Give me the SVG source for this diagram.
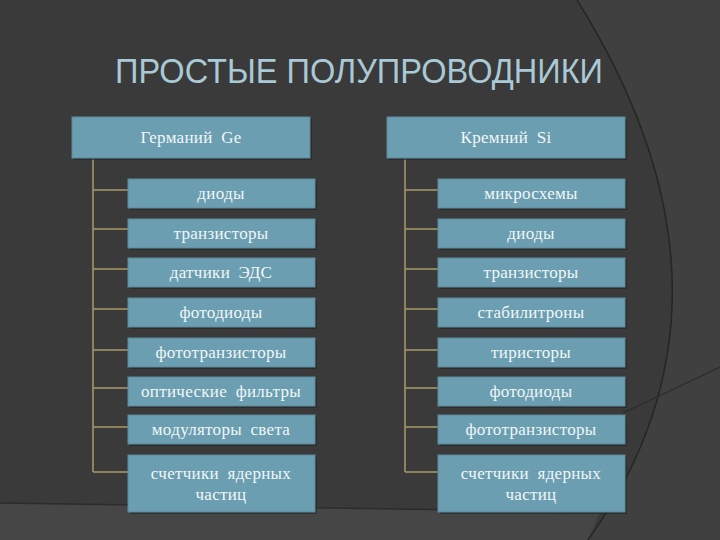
<svg xmlns="http://www.w3.org/2000/svg" width="720" height="540" viewBox="0 0 720 540">
<style>
.bx{fill:#6a9eb0;stroke:#5a8a9b;stroke-width:1}
.sh{fill:#262626;opacity:0.7}
.t{font-family:'Liberation Serif','DejaVu Serif',serif;font-size:17px;fill:#f2f6f8;text-anchor:middle;letter-spacing:0.3px}
.c{stroke:#a89b6a;stroke-width:1.5;fill:none}
</style>
<rect width="720" height="540" fill="#3a3a3a"/>
<path d="M577,0 C702,200 702,380 588,540 L720,540 L720,0 Z" fill="#404040"/>
<path d="M0,503 L600,512 L588,540 L0,540 Z" fill="#464646"/>
<path d="M0,503 L600,512" stroke="#2c2c2c" stroke-width="1.5" fill="none"/>
<path d="M577,0 C702,200 702,380 588,540" stroke="#262626" stroke-width="1.5" fill="none"/>
<path d="M623,413 L720,367" stroke="#2c2c2c" stroke-width="1.2" fill="none"/>
<text x="115" y="83" font-family="'Liberation Sans',Arial,sans-serif" font-size="35" fill="#aac9d6" textLength="488" lengthAdjust="spacingAndGlyphs">ПРОСТЫЕ  ПОЛУПРОВОДНИКИ</text>

<g id="connectors">
<path class="c" d="M93,158 V472"/>
<path class="c" d="M93,190 H128 M93,229 H128 M93,269 H128 M93,309 H128 M93,350 H128 M93,388 H128 M93,427 H128 M93,472 H128"/>
<path class="c" d="M405,158 V472"/>
<path class="c" d="M405,190 H438 M405,229 H438 M405,269 H438 M405,309 H438 M405,350 H438 M405,388 H438 M405,427 H438 M405,472 H438"/>
</g>

<g id="ge"><rect class="sh" x="74" y="119" width="238" height="41"/><rect class="bx" x="72" y="117" width="238" height="41"/><text class="t" font-family="'Liberation Serif','DejaVu Serif',serif" x="191" y="143" word-spacing="4">Германий Ge</text></g>
<g id="si"><rect class="sh" x="389" y="119" width="238" height="41"/><rect class="bx" x="387" y="117" width="238" height="41"/><text class="t" font-family="'Liberation Serif','DejaVu Serif',serif" x="506" y="143" word-spacing="4">Кремний Si</text></g>

<g id="l1"><rect class="sh" x="130" y="181" width="187" height="29"/><rect class="bx" x="128" y="179" width="187" height="29"/><text class="t" font-family="'Liberation Serif','DejaVu Serif',serif" x="221" y="199">диоды</text></g>
<g id="l2"><rect class="sh" x="130" y="221" width="187" height="29"/><rect class="bx" x="128" y="219" width="187" height="29"/><text class="t" font-family="'Liberation Serif','DejaVu Serif',serif" x="221" y="239">транзисторы</text></g>
<g id="l3"><rect class="sh" x="130" y="260" width="187" height="29"/><rect class="bx" x="128" y="258" width="187" height="29"/><text class="t" font-family="'Liberation Serif','DejaVu Serif',serif" x="221" y="278" word-spacing="4">датчики ЭДС</text></g>
<g id="l4"><rect class="sh" x="130" y="300" width="187" height="29"/><rect class="bx" x="128" y="298" width="187" height="29"/><text class="t" font-family="'Liberation Serif','DejaVu Serif',serif" x="221" y="318">фотодиоды</text></g>
<g id="l5"><rect class="sh" x="130" y="340" width="187" height="29"/><rect class="bx" x="128" y="338" width="187" height="29"/><text class="t" font-family="'Liberation Serif','DejaVu Serif',serif" x="221" y="358">фототранзисторы</text></g>
<g id="l6"><rect class="sh" x="130" y="379" width="187" height="29"/><rect class="bx" x="128" y="377" width="187" height="29"/><text class="t" font-family="'Liberation Serif','DejaVu Serif',serif" x="221" y="397" word-spacing="4">оптические фильтры</text></g>
<g id="l7"><rect class="sh" x="130" y="417" width="187" height="29"/><rect class="bx" x="128" y="415" width="187" height="29"/><text class="t" font-family="'Liberation Serif','DejaVu Serif',serif" x="221" y="435" word-spacing="4">модуляторы света</text></g>
<g id="l8"><rect class="sh" x="130" y="457" width="187" height="57"/><rect class="bx" x="128" y="455" width="187" height="57"/><text class="t" font-family="'Liberation Serif','DejaVu Serif',serif" x="221" y="479" word-spacing="4">счетчики ядерных</text><text class="t" font-family="'Liberation Serif','DejaVu Serif',serif" x="221" y="500">частиц</text></g>

<g id="r1"><rect class="sh" x="440" y="181" width="187" height="29"/><rect class="bx" x="438" y="179" width="187" height="29"/><text class="t" font-family="'Liberation Serif','DejaVu Serif',serif" x="531" y="199">микросхемы</text></g>
<g id="r2"><rect class="sh" x="440" y="221" width="187" height="29"/><rect class="bx" x="438" y="219" width="187" height="29"/><text class="t" font-family="'Liberation Serif','DejaVu Serif',serif" x="531" y="239">диоды</text></g>
<g id="r3"><rect class="sh" x="440" y="260" width="187" height="29"/><rect class="bx" x="438" y="258" width="187" height="29"/><text class="t" font-family="'Liberation Serif','DejaVu Serif',serif" x="531" y="278">транзисторы</text></g>
<g id="r4"><rect class="sh" x="440" y="300" width="187" height="29"/><rect class="bx" x="438" y="298" width="187" height="29"/><text class="t" font-family="'Liberation Serif','DejaVu Serif',serif" x="531" y="318">стабилитроны</text></g>
<g id="r5"><rect class="sh" x="440" y="340" width="187" height="29"/><rect class="bx" x="438" y="338" width="187" height="29"/><text class="t" font-family="'Liberation Serif','DejaVu Serif',serif" x="531" y="358">тиристоры</text></g>
<g id="r6"><rect class="sh" x="440" y="379" width="187" height="29"/><rect class="bx" x="438" y="377" width="187" height="29"/><text class="t" font-family="'Liberation Serif','DejaVu Serif',serif" x="531" y="397">фотодиоды</text></g>
<g id="r7"><rect class="sh" x="440" y="417" width="187" height="29"/><rect class="bx" x="438" y="415" width="187" height="29"/><text class="t" font-family="'Liberation Serif','DejaVu Serif',serif" x="531" y="435">фототранзисторы</text></g>
<g id="r8"><rect class="sh" x="440" y="457" width="187" height="57"/><rect class="bx" x="438" y="455" width="187" height="57"/><text class="t" font-family="'Liberation Serif','DejaVu Serif',serif" x="531" y="479" word-spacing="4">счетчики ядерных</text><text class="t" font-family="'Liberation Serif','DejaVu Serif',serif" x="531" y="500">частиц</text></g>
</svg>
